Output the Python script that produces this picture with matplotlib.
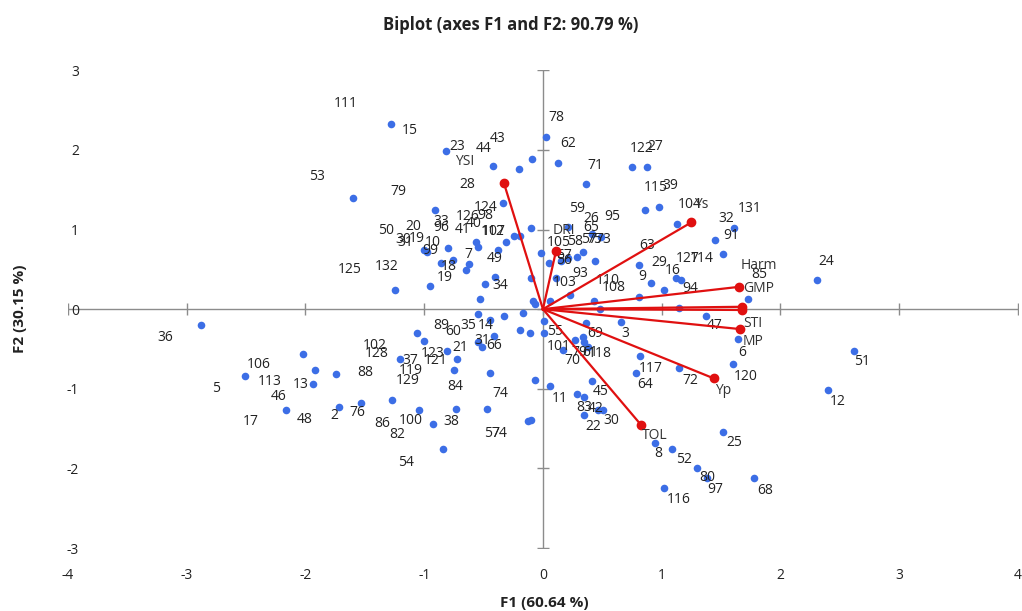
import matplotlib
matplotlib.use("Agg")
import matplotlib.pyplot as plt

plt.rcParams['font.family'] = ['Open Sans', 'DejaVu Sans']
plt.rcParams['axes.unicode_minus'] = False

# observations (F1, F2)
obs_x = [-1.28, -1.60, -1.25, 0.03, -0.82, -0.09, -0.42, -0.20, 0.13, 0.36, 0.75, 0.88,
         -0.91, -0.34, 0.86, 0.98, -0.10, -0.24, -0.19, -0.31, -0.56, -0.55, -0.80, -1.00,
         -0.98, -0.86, -0.76, -0.62, -0.65, -0.38, -0.02, 0.05, -0.10, -0.40, -0.49, -0.95,
         -0.53, -0.07, 0.06, 0.23, 0.43, 0.48, 0.81, 0.91, 1.02, 1.13, 0.44, 0.29, 0.34,
         0.21, 0.41, 0.49, 0.21, 0.15, 1.12, 1.16, 0.81, 0.11, -0.08, 1.61, 1.45, 1.52,
         2.31, 1.73, 1.15, 1.37, 1.64, 1.60, 2.62, 2.40, 1.15, 0.82, 0.94, 1.09, 1.30, 1.38,
         1.52, 1.78, 1.02, -2.88, -2.02, -2.51, -1.92, -1.94, -1.74, -2.16, -1.72, -1.53,
         -1.27, -1.20, -1.06, -1.00, -0.55, -0.33, -0.17, -0.19, -0.11, 0.01, 0.01, -0.45,
         -0.41, -0.55, -0.51, -0.81, -0.72, -0.75, -0.45, -0.07, -1.04, -0.73, -0.47, -0.93,
         -0.13, -0.10, -0.84, 0.36, 0.66, 0.27, 0.34, 0.35, 0.38, 0.17, 0.78, 0.06, 0.41,
         0.29, 0.35, 0.51, 0.46, 0.35]
obs_y = [2.32, 1.40, 0.24, 2.16, 1.98, 1.88, 1.80, 1.76, 1.83, 1.57, 1.78, 1.79,
         1.25, 1.33, 1.25, 1.28, 1.02, 0.92, 0.92, 0.84, 0.84, 0.78, 0.77, 0.74,
         0.72, 0.58, 0.62, 0.57, 0.49, 0.74, 0.71, 0.58, 0.39, 0.41, 0.31, 0.29,
         0.13, 0.06, 0.10, 0.18, 0.10, 0.00, 0.55, 0.33, 0.24, 1.07, 0.61, 0.66, 0.72,
         1.03, 0.95, 0.91, 0.64, 0.61, 0.39, 0.36, 0.15, 0.39, 0.10, 1.02, 0.87, 0.69,
         0.36, 0.13, 0.01, -0.08, -0.37, -0.69, -0.52, -1.02, -0.74, -0.59, -1.68, -1.75,
         -1.99, -2.12, -1.54, -2.12, -2.24, -0.20, -0.56, -0.84, -0.76, -0.94, -0.81, -1.27,
         -1.23, -1.18, -1.14, -0.63, -0.30, -0.40, -0.06, -0.08, -0.05, -0.26, -0.30, -0.30,
         -0.15, -0.14, -0.34, -0.41, -0.47, -0.52, -0.62, -0.76, -0.80, -0.89, -1.27, -1.25,
         -1.25, -1.44, -1.41, -1.39, -1.75, -0.17, -0.16, -0.39, -0.35, -0.41, -0.47, -0.51,
         -0.80, -0.97, -0.90, -1.07, -1.10, -1.26, -1.27, -1.33]

# observation labels (as placed on the chart)
lab_text = ['111', '15', '53', '79', '23', '44', '43', '28', '78', '62', '71', '122', '27',
            '115', '39', '124', '126', '40', '98', '33', '96', '41', '50', '20', '30', '31',
            '19', '10', '99', '112', '107', '7', '18', '49', '132', '125', '19', '34', '59',
            '26', '95', '65', '105', '58', '57', '75', '73', '67', '56', '63', '93', '103',
            '110', '108', '9', '29', '16', '127', '114', '94', '104', '32', '131', '91', '85',
            '24', '47', '6', '51', '117', '64', '72', '120', '12', '25', '8', '52', '80', '97',
            '68', '116', '55', '69', '3', '101', '79', '61', '118', '70', '11', '45', '83',
            '42', '22', '30', '89', '60', '35', '14', '31', '66', '21', '123', '121', '37',
            '119', '129', '102', '128', '88', '84', '74', '86', '100', '82', '38', '57', '74',
            '54', '2', '76', '48', '17', '46', '113', '13', '106', '5', '36']
lab_x = [-1.66, -1.12, -1.90, -1.22, -0.72, -0.50, -0.38, -0.64, 0.11, 0.21, 0.44, 0.83, 0.95,
         0.95, 1.07, -0.48, -0.63, -0.58, -0.49, -0.86, -0.86, -0.68, -1.32, -1.09, -1.18, -1.16,
         -1.06, -0.93, -0.95, -0.42, -0.41, -0.63, -0.79, -0.41, -1.32, -1.63, -0.83, -0.36, 0.29,
         0.41, 0.58, 0.41, 0.13, 0.27, 0.39, 0.43, 0.51, 0.18, 0.18, 0.88, 0.31, 0.18,
         0.55, 0.60, 0.84, 0.98, 1.09, 1.22, 1.34, 1.24, 1.24, 1.54, 1.74, 1.59, 1.82,
         2.39, 1.45, 1.68, 2.69, 0.91, 0.86, 1.24, 1.71, 2.48, 1.61, 0.97, 1.19, 1.38, 1.45,
         1.87, 1.14, 0.10, 0.44, 0.69, 0.13, 0.31, 0.40, 0.48, 0.25, 0.14, 0.49, 0.35,
         0.44, 0.42, 0.58, -0.86, -0.76, -0.63, -0.48, -0.51, -0.41, -0.70, -0.93, -0.90, -1.12,
         -1.11, -1.14, -1.42, -1.40, -1.50, -0.74, -0.36, -1.35, -1.11, -1.23, -0.77, -0.43, -0.37,
         -1.15, -1.76, -1.56, -2.01, -2.46, -2.23, -2.30, -2.04, -2.39, -2.75, -3.18]
lab_y = [2.58, 2.24, 1.66, 1.48, 2.04, 2.02, 2.14, 1.56, 2.41, 2.08, 1.81, 2.02, 2.04,
         1.53, 1.55, 1.28, 1.16, 1.08, 1.18, 1.10, 1.03, 1.00, 0.99, 1.04, 0.87, 0.84,
         0.89, 0.84, 0.74, 0.97, 0.97, 0.69, 0.54, 0.64, 0.54, 0.50, 0.40, 0.30, 1.26,
         1.14, 1.16, 1.02, 0.84, 0.85, 0.87, 0.87, 0.87, 0.68, 0.61, 0.80, 0.45, 0.34,
         0.36, 0.27, 0.41, 0.59, 0.49, 0.64, 0.64, 0.26, 1.32, 1.14, 1.26, 0.93, 0.43,
         0.60, -0.21, -0.54, -0.66, -0.74, -0.95, -0.90, -0.84, -1.16, -1.68, -1.81, -1.89, -2.12, -2.26,
         -2.28, -2.39, -0.28, -0.31, -0.30, -0.47, -0.54, -0.54, -0.56, -0.64, -1.12, -1.04, -1.23,
         -1.25, -1.47, -1.40, -0.20, -0.28, -0.20, -0.20, -0.39, -0.46, -0.48, -0.56, -0.65, -0.65,
         -0.77, -0.89, -0.45, -0.56, -0.79, -0.97, -1.06, -1.43, -1.40, -1.58, -1.41, -1.56, -1.56,
         -1.92, -1.33, -1.30, -1.38, -1.41, -1.10, -0.91, -0.95, -0.69, -1.00, -0.36]

# variables (arrow tips) and where their names are written
var_names = ['YSI', 'DRI', 'Ys', 'GMP', 'Harm', 'STI', 'MP', 'Yp', 'TOL']
var_x = [-0.33, 0.11, 1.25, 1.65, 1.68, 1.68, 1.66, 1.44, 0.83]
var_y = [1.59, 0.73, 1.09, 0.28, 0.03, -0.01, -0.25, -0.87, -1.46]
var_lx = [-0.66, 0.18, 1.33, 1.82, 1.82, 1.77, 1.77, 1.52, 0.94]
var_ly = [1.86, 0.99, 1.32, 0.26, 0.55, -0.18, -0.40, -1.02, -1.59]

fig = plt.figure(figsize=(10.22, 6.11), dpi=100)
ax = fig.add_axes([0.0665, 0.103, 0.9295, 0.782])

ax.axhline(0, color='#8c8c8c', lw=1, zorder=1)
ax.axvline(0, color='#8c8c8c', lw=1, zorder=1)
xt = [-4, -3, -2, -1, 0, 1, 2, 3, 4]
yt = [-3, -2, -1, 0, 1, 2, 3]
ax.plot(xt, [0] * len(xt), ls='none', marker='|', ms=9, mew=1, color='#8c8c8c', zorder=1)
ax.plot([0] * len(yt), yt, ls='none', marker='_', ms=9, mew=1, color='#8c8c8c', zorder=1)

ax.scatter(obs_x, obs_y, s=30, color='#3c6ee6', zorder=3, linewidths=0)
for t, x, y in zip(lab_text, lab_x, lab_y):
    ax.text(x, y, t, ha='center', va='center', fontsize=10, color='#222222', zorder=4)

for n, x, y, lx, ly in zip(var_names, var_x, var_y, var_lx, var_ly):
    ax.plot([0, x], [0, y], color='#e01010', lw=1.6, zorder=5)
    ax.plot(x, y, 'o', color='#e01010', ms=6, zorder=5)
    ax.text(lx, ly, n, ha='center', va='center', fontsize=10, color='#333333', zorder=6)

ax.set_xlim(-4, 4)
ax.set_ylim(-3, 3)
ax.set_xticks(xt)
ax.set_yticks(yt)
for s in ax.spines.values():
    s.set_visible(False)
ax.tick_params(axis='both', length=0, labelsize=10, colors='#222222')
ax.tick_params(axis='x', pad=14)
ax.tick_params(axis='y', pad=-8)

fig.text(0.5, 0.959, 'Biplot (axes F1 and F2: 90.79 %)', ha='center', va='center',
         fontsize=12, fontweight='bold', color='#222222')
fig.text(0.533, 0.013, 'F1 (60.64 %)', ha='center', va='center', fontsize=11,
         fontweight='bold', color='#222222')
fig.text(0.02, 0.494, 'F2 (30.15 %)', ha='center', va='center', rotation=90, fontsize=11,
         fontweight='bold', color='#222222')

fig.savefig('out.png', dpi=100)
